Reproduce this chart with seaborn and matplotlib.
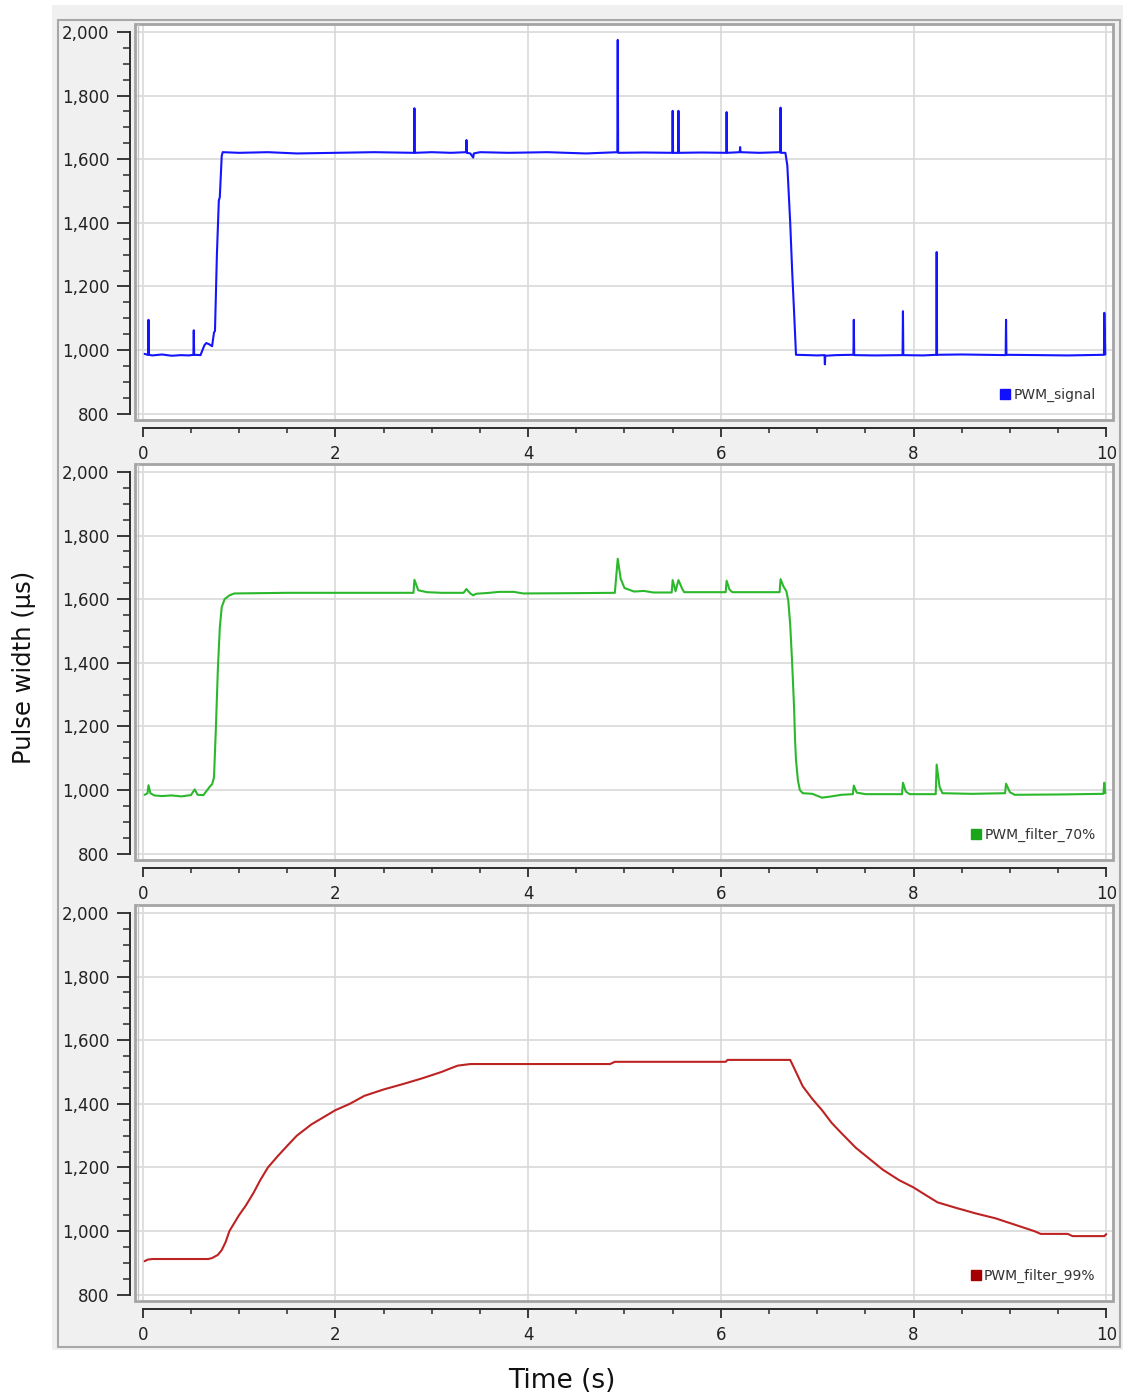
"""
Three stacked PWM traces: raw signal, 70% filter and 99% filter.
"""

import matplotlib
matplotlib.use('Agg')
import matplotlib.pyplot as plt
import seaborn as sns
from matplotlib.lines import Line2D
from matplotlib.patches import Rectangle
from matplotlib.ticker import MultipleLocator, FuncFormatter

# ---- data ----
signal_t = [0.02, 0.05, 0.056, 0.06, 0.064, 0.10, 0.20, 0.30, 0.40, 0.48, 0.526, 0.53, 0.534,
            0.60, 0.64, 0.66, 0.69, 0.72, 0.74, 0.75, 0.77, 0.79, 0.80, 0.82, 0.83,
            1.00, 1.30, 1.60, 2.00, 2.40, 2.816, 2.82, 2.824, 3.00, 3.20, 3.356, 3.36, 3.364,
            3.40, 3.43, 3.436, 3.50, 3.80, 4.20, 4.60, 4.926, 4.93, 4.934, 5.20,
            5.496, 5.50, 5.504, 5.556, 5.56, 5.564, 5.80, 6.056, 6.06, 6.064,
            6.196, 6.20, 6.204, 6.40, 6.616, 6.62, 6.624, 6.67, 6.69, 6.72, 6.74, 6.76, 6.78,
            6.90, 7.00, 7.076, 7.08, 7.084, 7.20, 7.376, 7.38, 7.384, 7.60,
            7.886, 7.89, 7.894, 8.10, 8.236, 8.24, 8.244, 8.50, 8.956, 8.96, 8.964,
            9.30, 9.60, 9.976, 9.98, 9.99]
signal_v = [988, 985, 985, 1095, 985, 983, 986, 982, 984, 983, 985, 1062, 985,
            984, 1015, 1022, 1018, 1012, 1055, 1060, 1300, 1470, 1480, 1610, 1622,
            1620, 1622, 1618, 1620, 1622, 1620, 1760, 1620, 1622, 1620, 1622, 1660, 1620,
            1618, 1605, 1618, 1622, 1620, 1622, 1618, 1622, 1975, 1620, 1621,
            1620, 1752, 1620, 1620, 1752, 1620, 1621, 1620, 1748, 1620,
            1622, 1638, 1622, 1620, 1622, 1762, 1620, 1620, 1580, 1400, 1250, 1120, 985,
            984, 983, 984, 955, 982, 984, 985, 1095, 984, 983,
            984, 1122, 984, 983, 985, 1308, 985, 986, 984, 1095, 985,
            984, 983, 985, 1117, 986]

f70_t = [0.02, 0.05, 0.06, 0.08, 0.12, 0.20, 0.30, 0.40, 0.50, 0.54, 0.57, 0.63, 0.67,
         0.70, 0.72, 0.74, 0.76, 0.78, 0.80, 0.82, 0.85, 0.90, 0.95, 1.50, 2.00, 2.50,
         2.81, 2.82, 2.86, 2.95, 3.10, 3.33, 3.36, 3.40, 3.43, 3.46, 3.60, 3.70, 3.85,
         3.95, 4.50, 4.90, 4.93, 4.96, 5.00, 5.10, 5.20, 5.30, 5.49, 5.50, 5.53, 5.56,
         5.60, 5.62, 6.05, 6.06, 6.09, 6.12, 6.61, 6.62, 6.65, 6.68, 6.70, 6.72, 6.74,
         6.76, 6.77, 6.78, 6.80, 6.82, 6.85, 6.95, 7.00, 7.05, 7.15, 7.25, 7.37, 7.38,
         7.41, 7.50, 7.88, 7.89, 7.92, 7.96, 8.23, 8.24, 8.27, 8.30, 8.60, 8.95, 8.96,
         9.00, 9.05, 9.50, 9.97, 9.98, 9.99]
f70_v = [985, 990, 1015, 990, 983, 981, 983, 980, 984, 1002, 985, 984, 1000,
         1012, 1018, 1040, 1200, 1380, 1510, 1575, 1600, 1612, 1618, 1620, 1620, 1620,
         1620, 1661, 1628, 1622, 1620, 1620, 1632, 1618, 1612, 1617, 1620, 1623, 1623,
         1618, 1619, 1620, 1727, 1665, 1635, 1624, 1626, 1621, 1621, 1660, 1625, 1660,
         1632, 1622, 1622, 1658, 1630, 1622, 1622, 1663, 1640, 1625, 1595, 1520, 1400,
         1260, 1160, 1095, 1030, 1000, 990, 988, 982, 976, 980, 985, 987, 1014,
         992, 987, 987, 1023, 995, 987, 987, 1080, 1010, 990, 988, 990, 1020,
         993, 985, 986, 988, 1023, 990]

f99_t = [0.02, 0.05, 0.10, 0.50, 0.68, 0.72, 0.78, 0.82, 0.86, 0.90, 0.95, 1.00, 1.07,
         1.15, 1.22, 1.30, 1.40, 1.50, 1.60, 1.75, 1.90, 2.00, 2.15, 2.30, 2.50, 2.70,
         2.90, 3.10, 3.20, 3.27, 3.40, 3.80, 4.30, 4.85, 4.90, 5.50, 6.05, 6.07, 6.50,
         6.72, 6.78, 6.85, 6.95, 7.05, 7.15, 7.27, 7.40, 7.55, 7.68, 7.85, 8.00, 8.10,
         8.25, 8.45, 8.65, 8.85, 9.05, 9.25, 9.32, 9.60, 9.65, 9.98, 10.0]
f99_v = [905, 910, 912, 912, 912, 915, 925, 940, 965, 1000, 1025, 1050, 1080,
         1120, 1160, 1200, 1235, 1268, 1300, 1335, 1362, 1380, 1400, 1425, 1445, 1462,
         1480, 1500, 1512, 1520, 1525, 1525, 1525, 1525, 1532, 1532, 1532, 1538, 1538,
         1538, 1500, 1455, 1415, 1380, 1340, 1302, 1262, 1225, 1193, 1160, 1137, 1118,
         1090, 1072, 1055, 1040, 1020, 1000, 991, 991, 984, 984, 990]

series_names = ['PWM_signal', 'PWM_filter_70%', 'PWM_filter_99%']
series_colors = ['#1414ff', '#2cb82c', '#bd2323']
legend_colors = ['#1010ff', '#1aa51a', '#a50000']
y_ticks = [800, 1000, 1200, 1400, 1600, 1800, 2000]
x_ticks = [0, 2, 4, 6, 8, 10]

W, H = 1123, 1399
PANEL_TOPS = [24, 464, 905]
PANEL_LEFT, PANEL_W, PANEL_H = 135, 978, 396


def draw_panel(fig, top, t, v, color, name, legend_color):
    ax = fig.add_axes([PANEL_LEFT / W, 1 - (top + PANEL_H) / H, PANEL_W / W, PANEL_H / H])
    ax.set_facecolor('white')
    sns.lineplot(x=t, y=v, ax=ax, color=color, lw=1.5, estimator=None, sort=False, zorder=3)

    ax.set_xlim(-0.08, 10.07)
    ax.set_ylim(780, 2025)
    ax.set_xticks(x_ticks)
    ax.set_yticks(y_ticks)
    ax.xaxis.set_minor_locator(MultipleLocator(0.5))
    ax.yaxis.set_minor_locator(MultipleLocator(50))
    ax.yaxis.set_major_formatter(FuncFormatter(lambda val, pos: f'{val:,.0f}'))
    ax.grid(which='major', color='#d9d9d9', lw=1.2)
    ax.grid(which='minor', visible=False)
    ax.set_xlabel('')
    ax.set_ylabel('')

    # axis strips sit outside the plot area
    for side in ['top', 'right']:
        ax.spines[side].set_visible(False)
    ax.spines['left'].set_position(('outward', 3.6))
    ax.spines['left'].set_bounds(800, 2000)
    ax.spines['bottom'].set_position(('outward', 5.8))
    ax.spines['bottom'].set_bounds(0, 10)
    for side in ['left', 'bottom']:
        ax.spines[side].set_color('#2a2a2a')
        ax.spines[side].set_linewidth(1.4)
        ax.spines[side].set_visible(True)

    ax.tick_params(axis='y', which='major', direction='out', length=9.4, width=1.3,
                   color='#2a2a2a', labelsize=12, labelcolor='#222222', pad=5.5, left=True)
    ax.tick_params(axis='y', which='minor', direction='out', length=5, width=1.1,
                   color='#2a2a2a', left=True)
    ax.tick_params(axis='x', which='major', direction='out', length=6.5, width=1.3,
                   color='#2a2a2a', labelsize=12, labelcolor='#222222', pad=6, bottom=True)
    ax.tick_params(axis='x', which='minor', direction='out', length=3.5, width=1.1,
                   color='#2a2a2a', bottom=True)

    # gray frame round the plot area, doubled on the left
    ax.add_patch(Rectangle((0, 0), 1, 1, transform=ax.transAxes, fill=False,
                           edgecolor='#a4a4a4', lw=2, clip_on=False, zorder=5))
    ax.add_line(Line2D([3 / PANEL_W, 3 / PANEL_W], [0, 1], transform=ax.transAxes,
                       color='#c4c4c4', lw=1, zorder=5))

    handle = Line2D([], [], marker='s', ls='none', color=legend_color, markersize=7)
    ax.legend(handles=[handle], labels=[name], loc='lower right', bbox_to_anchor=(0.982, 0.045),
              frameon=False, fontsize=10, handletextpad=0.1, borderpad=0, borderaxespad=0,
              labelcolor='#333333', handlelength=1.0)
    return ax


def main():
    sns.set_theme(style='white')
    plt.rcParams['font.family'] = ['DejaVu Sans']

    fig = plt.figure(figsize=(W / 100, H / 100), dpi=100)
    fig.patch.set_facecolor('white')

    # light gray window background and its border, kept behind the axes
    fig.patches.append(Rectangle((52 / W, 1 - 1350 / H), (W - 52) / W, 1345 / H,
                                 transform=fig.transFigure, facecolor='#f0f0f0',
                                 edgecolor='none', zorder=-2))
    fig.patches.append(Rectangle((58 / W, 1 - 1347 / H), (1120 - 58) / W, 1327 / H,
                                 transform=fig.transFigure, fill=False,
                                 edgecolor='#a8a8a8', lw=1.5, zorder=-1))

    all_t = [signal_t, f70_t, f99_t]
    all_v = [signal_v, f70_v, f99_v]
    for i in range(3):
        draw_panel(fig, PANEL_TOPS[i], all_t[i], all_v[i], series_colors[i],
                   series_names[i], legend_colors[i])

    fig.text(0.021, 0.523, 'Pulse width (µs)', rotation=90, fontsize=17.5,
             ha='center', va='center', color='#111111')
    fig.text(0.5, 0.013, 'Time (s)', fontsize=19, ha='center', va='center', color='#111111')

    fig.savefig('out.png', dpi=100)
    plt.close(fig)


if __name__ == "__main__":
    main()
